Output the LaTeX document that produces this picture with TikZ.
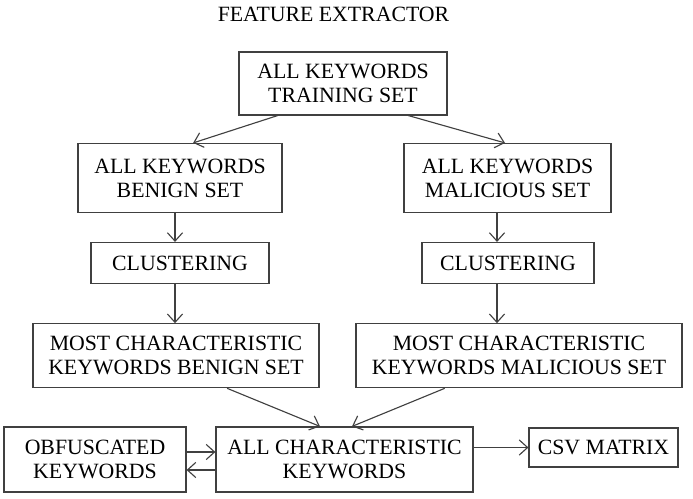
\documentclass[tikz,border=0pt]{standalone}
\usepackage{fontspec}
\setmainfont{Liberation Serif}
\usetikzlibrary{shapes,arrows,arrows.meta,positioning,calc}

\begin{document}
\begin{tikzpicture}[
    x=0.025cm, y=-0.025cm,
    block/.style={rectangle, draw=black!75, line width=0.8pt, align=center, inner sep=1pt, font=\fontsize{15.5}{17}\selectfont},
    arrow/.style={-{Straight Barb[length=2.1mm,width=3.8mm]}, line width=0.8pt, black!75},
    title/.style={font=\fontsize{15.5}{17}\selectfont}
]
\useasboundingbox (0,0) rectangle (693,499);

% Title
\node[title] (head) at (333.5,14) {FEATURE EXTRACTOR};

% Training set
\node[block, minimum width=5.2cm, minimum height=1.575cm] (train) at (343,83.5) {ALL KEYWORDS\\TRAINING SET};

% Benign / malicious branch
\node[block, minimum width=5.1cm, minimum height=1.725cm] (benign) at (180,178) {ALL KEYWORDS\\BENIGN SET};
\node[block, minimum width=5.175cm, minimum height=1.725cm] (malicious) at (507.5,178) {ALL KEYWORDS\\MALICIOUS SET};

\node[block, minimum width=4.45cm, minimum height=1.025cm] (clusterB) at (180,263) {CLUSTERING};
\node[block, minimum width=4.3cm, minimum height=1.025cm] (clusterM) at (508,263) {CLUSTERING};

\node[block, minimum width=7.15cm, minimum height=1.6cm] (mostB) at (176,355.75) {MOST CHARACTERISTIC\\KEYWORDS BENIGN SET};
\node[block, minimum width=8.15cm, minimum height=1.6cm] (mostM) at (519,355.75) {MOST CHARACTERISTIC\\KEYWORDS MALICIOUS SET};

% Bottom row
\node[block, minimum width=4.55cm, minimum height=1.625cm] (obf) at (95,459.5) {OBFUSCATED\\KEYWORDS};
\node[block, minimum width=6.425cm, minimum height=1.625cm] (allchar) at (344.5,459.5) {ALL CHARACTERISTIC\\KEYWORDS};
\node[block, minimum width=3.725cm, minimum height=0.975cm] (csv) at (603.5,447.5) {CSV MATRIX};

% vertical lines of the two branches
\coordinate (axisB) at (175,0);
\coordinate (axisM) at (497,0);

% Arrows
\draw[arrow] ($(train.south west)!0.1875!(train.south east)$) -- ($(benign.north west)!0.564!(benign.north east)$);
\draw[arrow] ($(train.south west)!0.8125!(train.south east)$) -- ($(malicious.north west)!0.488!(malicious.north east)$);
\draw[arrow] (benign.south -| axisB) -- (clusterB.north -| axisB);
\draw[arrow] (malicious.south -| axisM) -- (clusterM.north -| axisM);
\draw[arrow] (clusterB.south -| axisB) -- (mostB.north -| axisB);
\draw[arrow] (clusterM.south -| axisM) -- (mostM.north -| axisM);
\draw[arrow] ($(mostB.south west)!0.678!(mostB.south east)$) -- ($(allchar.north west)!0.405!(allchar.north east)$);
\draw[arrow] ($(mostM.south west)!0.273!(mostM.south east)$) -- ($(allchar.north west)!0.529!(allchar.north east)$);
\draw[arrow] ([yshift=0.1875cm]obf.east) -- ([yshift=0.1875cm]allchar.west);
\draw[arrow] ([yshift=-0.2625cm]allchar.west) -- ([yshift=-0.2625cm]obf.east);
\draw[arrow] (allchar.east |- csv.west) -- (csv.west);

\end{tikzpicture}
\end{document}
